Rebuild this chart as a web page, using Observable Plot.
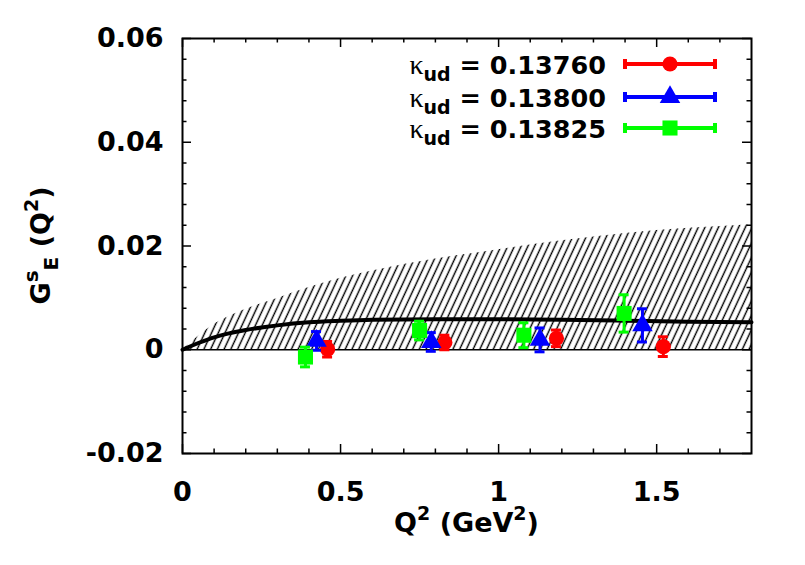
<!DOCTYPE html>
<html><head><meta charset="utf-8">
<script src="https://cdn.jsdelivr.net/npm/d3@7"></script>
<script src="https://cdn.jsdelivr.net/npm/@observablehq/plot@0.6"></script>
<style>body{margin:0;background:#fff}</style>
</head><body><div id="chart"></div>
<script>
// ---- data ----
const q2Red   = [0.459, 0.830, 1.183, 1.521];
const gRed    = [0.0001, 0.0014, 0.0022, 0.0006];
const eRed    = [0.0015, 0.0014, 0.0016, 0.0019];
const q2Blue  = [0.424, 0.787, 1.131, 1.455];
const gBlue   = [0.0017, 0.0015, 0.0019, 0.0047];
const eBlue   = [0.0018, 0.0018, 0.0023, 0.0032];
const q2Green = [0.389, 0.750, 1.080, 1.397];
const gGreen  = [-0.0014, 0.0037, 0.0028, 0.0070];
const eGreen  = [0.0019, 0.0018, 0.0024, 0.0036];

const seriesNames = ["0.13760", "0.13800", "0.13825"];
const seriesColors = ["#ff0000", "#0000ff", "#00ff00"];
const seriesSymbols = ["circle", "triangle", "square"];

const curveQ2 = [0, 0.05, 0.1, 0.15, 0.2, 0.3, 0.4, 0.5, 0.6, 0.8, 1.0, 1.2, 1.4, 1.6, 1.8];
const curveG  = [0, 0.0013, 0.0024, 0.0032, 0.0038, 0.0047, 0.0053, 0.0056, 0.0058, 0.0059, 0.0059, 0.0058, 0.0056, 0.0054, 0.0053];
const bandHi  = [0, 0.0026, 0.0049, 0.0065, 0.0078, 0.0099, 0.0120, 0.0138, 0.0152, 0.0175, 0.0193, 0.0210, 0.0224, 0.0234, 0.0241];
const bandLo  = [0, 0, 0, 0, 0, 0, 0, 0, 0, 0, 0, 0, 0, 0, 0];

const xMajor = [0, 0.5, 1, 1.5];
const xMinor = [0.1, 0.2, 0.3, 0.4, 0.6, 0.7, 0.8, 0.9, 1.1, 1.2, 1.3, 1.4, 1.6, 1.7];
const yMajor = [-0.02, 0, 0.02, 0.04, 0.06];
const yMinor = [-0.016, -0.012, -0.008, -0.004, 0.004, 0.008, 0.012, 0.016, 0.024, 0.028, 0.032, 0.036, 0.044, 0.048, 0.052, 0.056];
const xTickLabels = ["0", "0.5", "1", "1.5"];
const yTickLabels = ["-0.02", "0", "0.02", "0.04", "0.06"];

// ---- tables ----
const points = [];
[[q2Red, gRed, eRed], [q2Blue, gBlue, eBlue], [q2Green, gGreen, eGreen]].forEach(([xs, ys, es], s) => {
  xs.forEach((x, i) => points.push({s, x, y: ys[i], lo: ys[i] - es[i], hi: ys[i] + es[i]}));
});
const curve = curveQ2.map((x, i) => ({x, y: curveG[i], lo: bandLo[i], hi: bandHi[i]}));

const FONT = "DejaVu Sans";
const TICKFS = 27;
const xLo = 0, xHi = 1.8, yLo = -0.02, yHi = 0.06;

const marks = [
  Plot.areaY(curve, {x: "x", y1: "lo", y2: "hi", fill: "url(#hatch)", curve: "monotone-x"}),
  Plot.ruleY([0], {stroke: "black", strokeWidth: 1.5}),
  Plot.line(curve, {x: "x", y: "y", stroke: "black", strokeWidth: 4, curve: "monotone-x"}),
];
for (let s = 0; s < 3; s++) {
  const pts = points.filter(p => p.s === s);
  const c = seriesColors[s];
  marks.push(
    Plot.ruleX(pts, {x: "x", y1: "lo", y2: "hi", stroke: c, strokeWidth: 3}),
    Plot.ruleY(pts, {y: "hi", x1: "x", x2: "x", insetLeft: -5, insetRight: -5, stroke: c, strokeWidth: 3}),
    Plot.ruleY(pts, {y: "lo", x1: "x", x2: "x", insetLeft: -5, insetRight: -5, stroke: c, strokeWidth: 3}),
    Plot.dot(pts, {x: "x", y: "y", symbol: seriesSymbols[s], r: s === 2 ? 8.5 : 7.6, fill: c, stroke: "none"})
  );
}
// inner ticks on all four sides
marks.push(
  Plot.ruleX(xMajor, {x: d => d, y1: yLo, y2: yLo, insetTop: -9, stroke: "black", strokeWidth: 1.5}),
  Plot.ruleX(xMinor, {x: d => d, y1: yLo, y2: yLo, insetTop: -4.5, stroke: "black", strokeWidth: 1.5}),
  Plot.ruleX(xMajor, {x: d => d, y1: yHi, y2: yHi, insetBottom: -9, stroke: "black", strokeWidth: 1.5}),
  Plot.ruleX(xMinor, {x: d => d, y1: yHi, y2: yHi, insetBottom: -4.5, stroke: "black", strokeWidth: 1.5}),
  Plot.ruleY(yMajor, {y: d => d, x1: xLo, x2: xLo, insetRight: -9, stroke: "black", strokeWidth: 1.5}),
  Plot.ruleY(yMinor, {y: d => d, x1: xLo, x2: xLo, insetRight: -4.5, stroke: "black", strokeWidth: 1.5}),
  Plot.ruleY(yMajor, {y: d => d, x1: xHi, x2: xHi, insetLeft: -9, stroke: "black", strokeWidth: 1.5}),
  Plot.ruleY(yMinor, {y: d => d, x1: xHi, x2: xHi, insetLeft: -4.5, stroke: "black", strokeWidth: 1.5}),
  Plot.frame({stroke: "black", strokeWidth: 2}),
  Plot.axisX({ticks: xMajor, tickSize: 0, tickPadding: 28, tickFormat: d => xTickLabels[xMajor.indexOf(d)], fontSize: TICKFS, fontWeight: "bold", fontFamily: FONT, label: null}),
  Plot.axisY({ticks: yMajor, tickSize: 0, tickPadding: 19, tickFormat: d => yTickLabels[yMajor.findIndex(v => Math.abs(v - d) < 1e-9)], fontSize: TICKFS, fontWeight: "bold", fontFamily: FONT, label: null})
);

const plot = Plot.plot({
  width: 805, height: 565,
  marginLeft: 182, marginRight: 54, marginTop: 38, marginBottom: 112,
  x: {domain: [xLo, xHi]},
  y: {domain: [yLo, yHi]},
  style: {fontFamily: FONT, fontWeight: "bold", color: "black", background: "white"},
  marks
});
document.getElementById("chart").appendChild(plot);

// ---- hatch pattern, titles, legend ----
const svg = d3.select(plot);
const defs = svg.insert("defs", ":first-child");
const pat = defs.append("pattern").attr("id", "hatch").attr("patternUnits", "userSpaceOnUse")
  .attr("width", 6.1).attr("height", 10).attr("patternTransform", "rotate(25)");
pat.append("rect").attr("width", 6.1).attr("height", 10).attr("fill", "white");
pat.append("line").attr("x1", 3).attr("y1", -1).attr("x2", 3).attr("y2", 11).attr("stroke", "black").attr("stroke-width", 1.4);

const xs = plot.scale("x"), ys = plot.scale("y");
const cx = (xs.apply(xLo) + xs.apply(xHi)) / 2;
const cy = (ys.apply(yLo) + ys.apply(yHi)) / 2;

// x title
const xt = svg.append("text").attr("x", cx).attr("y", 532).attr("text-anchor", "middle")
  .attr("font-family", FONT).attr("font-weight", "bold").attr("font-size", 27).attr("fill", "black");
xt.append("tspan").text("Q");
xt.append("tspan").attr("dy", -12).attr("font-size", 19).text("2");
xt.append("tspan").attr("dy", 12).text(" (GeV");
xt.append("tspan").attr("dy", -12).attr("font-size", 19).text("2");
xt.append("tspan").attr("dy", 12).text(")");

// y title
const yt = svg.append("text").attr("transform", `translate(50,${cy}) rotate(-90)`).attr("text-anchor", "middle")
  .attr("font-family", FONT).attr("font-weight", "bold").attr("font-size", 27).attr("fill", "black");
yt.append("tspan").text("G");
yt.append("tspan").attr("dy", -12).attr("font-size", 20).text("s");
yt.append("tspan").attr("dy", 20).attr("font-size", 20).text("E");
yt.append("tspan").attr("dy", -8).text(" (Q");
yt.append("tspan").attr("dy", -12).attr("font-size", 19).text("2");
yt.append("tspan").attr("dy", 12).text(")");

// legend
const legY = [64, 97, 128];
const lx1 = 625, lx2 = 715, lm = 670;
seriesNames.forEach((name, i) => {
  const g = svg.append("g");
  const y = legY[i];
  const t = g.append("text").attr("x", 606).attr("y", y + 9.5).attr("text-anchor", "end")
    .attr("font-family", FONT).attr("font-weight", "bold").attr("font-size", 25.5).attr("fill", "black");
  t.append("tspan").attr("font-family", "Liberation Serif").attr("font-weight", "normal").attr("font-size", 28).text("κ");
  t.append("tspan").attr("dy", 7).attr("font-size", 19).text("ud");
  t.append("tspan").attr("dy", -7).text(" = " + name);
  const c = seriesColors[i];
  g.append("line").attr("x1", lx1).attr("x2", lx2).attr("y1", y).attr("y2", y).attr("stroke", c).attr("stroke-width", 4);
  g.append("line").attr("x1", lx1).attr("x2", lx1).attr("y1", y - 5).attr("y2", y + 5).attr("stroke", c).attr("stroke-width", 4);
  g.append("line").attr("x1", lx2).attr("x2", lx2).attr("y1", y - 5).attr("y2", y + 5).attr("stroke", c).attr("stroke-width", 4);
  const sym = {circle: d3.symbolCircle, triangle: d3.symbolTriangle, square: d3.symbolSquare}[seriesSymbols[i]];
  const r = i === 2 ? 8.5 : 7.6;
  g.append("path").attr("transform", `translate(${lm},${y})`).attr("d", d3.symbol(sym, Math.PI * r * r)()).attr("fill", c);
});
</script></body></html>
